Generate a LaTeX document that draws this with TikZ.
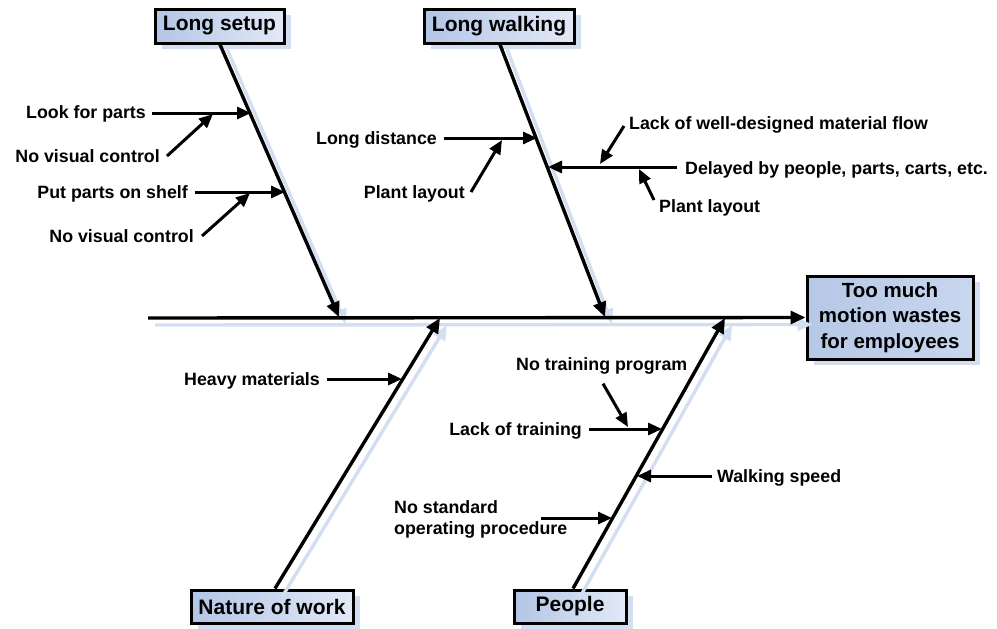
\documentclass[tikz,border=0pt]{standalone}
\usepackage{fontspec}
\setmainfont{Liberation Sans}
\usetikzlibrary{arrows.meta,shadows}
\definecolor{boneshadow}{HTML}{D3DEF1}
\definecolor{boxleft}{HTML}{B3C5E6}
\definecolor{boxright}{HTML}{E2E9F6}
\definecolor{effleft}{HTML}{B6C8E7}
\definecolor{effright}{HTML}{C8D6EE}
\begin{document}
\begin{tikzpicture}[x=1pt,y=-1pt,
  cause/.style={font=\fontsize{17.8}{20}\selectfont\bfseries, inner sep=0pt, text depth=0pt},
  catbox/.style={draw=black, line width=3pt, left color=boxleft, right color=boxright,
    font=\fontsize{21}{24}\selectfont\bfseries, inner sep=0pt,
    general shadow={fill=boneshadow, shadow xshift=7pt, shadow yshift=-6pt}},
  bone/.style={line width=3.4pt, -{Triangle[length=15pt,width=13pt]}},
  boneshade/.style={line width=3.4pt, draw=boneshadow, -{Triangle[length=15pt,width=13pt]},
    transform canvas={xshift=7pt,yshift=-7pt}},
  sub/.style={line width=3pt, -{Triangle[length=14pt,width=12pt]}},
]
\useasboundingbox (0,0) rectangle (997,629);

% effect and category boxes
\node[catbox, minimum width=166pt, minimum height=83pt, align=center,
      left color=effleft, right color=effright,
      font=\fontsize{20.5}{25.5}\selectfont\bfseries] (effect) at (890,317.5)
  {Too much\\motion wastes\\for employees};
\node[catbox, minimum width=129pt, minimum height=34pt] (setup) at (219.5,26) {Long setup};
\node[catbox, minimum width=150pt, minimum height=34pt] (walk) at (499,26) {Long walking};
\node[catbox, minimum width=162pt, minimum height=33pt] (nature) at (272,606.5) {Nature of work};
\node[catbox, minimum width=112pt, minimum height=33pt] (people) at (570,606.5) {\raisebox{-1.5pt}{People}};

% spine and bone end points
\coordinate (tail) at (148,318);
\coordinate (setupTop) at (220,42);
\coordinate (setupEnd) at (339,317);
\coordinate (walkTop) at (500,42);
\coordinate (walkEnd) at (605,317);
\coordinate (natureBot) at (275,590);
\coordinate (natureEnd) at (440,318);
\coordinate (peopleBot) at (573,590);
\coordinate (peopleEnd) at (725,318);

% light shadows of spine and bones
\draw[boneshade] (tail) -- (effect.west);
\draw[boneshade] (setupTop) -- (setupEnd);
\draw[boneshade] (walkTop) -- (walkEnd);
\draw[boneshade] (natureBot) -- (natureEnd);
\draw[boneshade] (peopleBot) -- (peopleEnd);

% spine and bones
\draw[bone] (tail) -- (effect.west);
\draw[bone] (setup.south -| setupTop) -- (setupEnd);
\draw[bone] (walk.south -| walkTop) -- (walkEnd);
\draw[bone] (nature.north -| natureBot) -- (natureEnd);
\draw[bone] (people.north -| peopleBot) -- (peopleEnd);

% Long setup causes
\node[cause, anchor=east] (lookParts) at (146,112) {Look for parts};
\node[cause, anchor=east] (noVis1) at (160,156) {No visual control};
\node[cause, anchor=east] (putParts) at (188,192) {Put parts on shelf};
\node[cause, anchor=east] (noVis2) at (194,236) {No visual control};
\coordinate (lookEnd) at (251,113);
\coordinate (lookMid) at (213,114);
\coordinate (putEnd) at (285,192);
\coordinate (putMid) at (250,193);
\draw[sub] ([xshift=6pt]lookParts.east |- lookEnd) -- (lookEnd);
\draw[sub] ([xshift=7pt]noVis1.east) -- (lookMid);
\draw[sub] ([xshift=7pt]putParts.east |- putEnd) -- (putEnd);
\draw[sub] ([xshift=8pt]noVis2.east) -- (putMid);

% Long walking causes
\node[cause, anchor=east] (longDist) at (437,138) {Long distance};
\node[cause, anchor=east] (plant1) at (465,192) {Plant layout};
\node[cause, anchor=west] (delayed) at (685,168) {Delayed by people, parts, carts, etc.};
\node[cause, anchor=west] (lackFlow) at (629,123) {Lack of well-designed material flow};
\node[cause, anchor=west] (plant2) at (659,206) {Plant layout};
\coordinate (distEnd) at (537,138);
\coordinate (distMid) at (502,140);
\coordinate (delayEnd) at (548,167);
\coordinate (flowEnd) at (600,164);
\coordinate (plantEnd) at (639,169);
\draw[sub] ([xshift=7pt]longDist.east |- distEnd) -- (distEnd);
\draw[sub] ([xshift=6pt]plant1.east) -- (distMid);
\draw[sub] ([xshift=-8pt]delayed.west |- delayEnd) -- (delayEnd);
\draw[sub] ([xshift=-5pt,yshift=-3pt]lackFlow.west) -- (flowEnd);
\draw[sub] ([xshift=-5pt,yshift=6pt]plant2.west) -- (plantEnd);

% Nature of work causes
\node[cause, anchor=east] (heavy) at (320,379) {Heavy materials};
\coordinate (heavyEnd) at (402,379);
\draw[sub] ([xshift=7pt]heavy.east) -- (heavyEnd);

% People causes
\node[cause, anchor=west] (noProg) at (516,364) {No training program};
\node[cause, anchor=east] (lackTrain) at (582,429) {Lack of training};
\node[cause, anchor=west] (walkSpeed) at (717,476) {Walking speed};
\node[cause, anchor=west, align=left, font=\fontsize{17.8}{21}\selectfont\bfseries] (noStd) at (394,518)
  {No standard\\operating procedure};
\coordinate (trainEnd) at (662,429);
\coordinate (progEnd) at (628,427);
\coordinate (speedEnd) at (637,476);
\coordinate (stdEnd) at (612,518);
\draw[sub] ([xshift=7pt]lackTrain.east |- trainEnd) -- (trainEnd);
\draw[sub] ([xshift=87pt,yshift=-13pt]noProg.south west) -- (progEnd);
\draw[sub] ([xshift=-5pt]walkSpeed.west) -- (speedEnd);
\draw[sub] (541,518) coordinate (stdStart) -- (stdEnd);
\end{tikzpicture}
\end{document}
